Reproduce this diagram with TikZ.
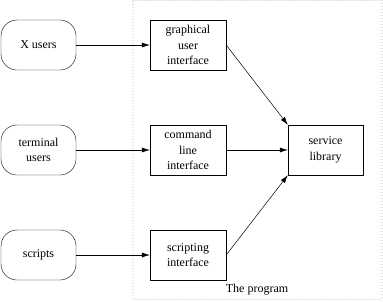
\documentclass[tikz,border=0pt]{standalone}
\usepackage{fontspec}
\setmainfont{Liberation Serif}
\usetikzlibrary{arrows.meta}
\begin{document}
\begin{tikzpicture}[x=1pt,y=-1pt,
  actor/.style={draw,rounded corners=16pt,minimum width=75pt,minimum height=50pt,inner sep=0pt,align=center,font=\fontsize{12}{15.5}\selectfont},
  iface/.style={draw,minimum width=76pt,minimum height=50pt,inner sep=0pt,align=center,font=\fontsize{12}{15.5}\selectfont},
  conn/.style={-{Latex[length=8pt,width=5pt]},line width=0.5pt},
  frame/.style={gray,line width=0.6pt,line cap=round,dash pattern=on 0pt off 3pt}]
\useasboundingbox (0,0) rectangle (383,301);
\draw[frame] (133,0.5) -- (382,0.5) -- (382,299.5) -- (133,299.5) -- cycle;
\node[actor] (xu) at (38.5,45) {X users};
\node[actor] (tu) at (38.5,150) {terminal\\users};
\node[actor] (sc) at (38.5,255) {scripts};
\node[iface] (gui) at (188,45) {graphical\\user\\interface};
\node[iface] (cli) at (188,150) {command\\line\\interface};
\node[iface] (sci) at (188,255) {scripting\\interface};
\node[iface,minimum width=75pt] (lib) at (325.5,150) {service\\library};
\node[font=\fontsize{12}{14}\selectfont] (prog) at (257,290) {The program};
\draw[conn] (xu) -- (gui);
\draw[conn] (tu) -- (cli);
\draw[conn] (sc) -- (sci);
\draw[conn] (gui.east) -- (lib.north west);
\draw[conn] (cli) -- (lib);
\draw[conn] (sci.east) -- (lib.south west);
\end{tikzpicture}
\end{document}
